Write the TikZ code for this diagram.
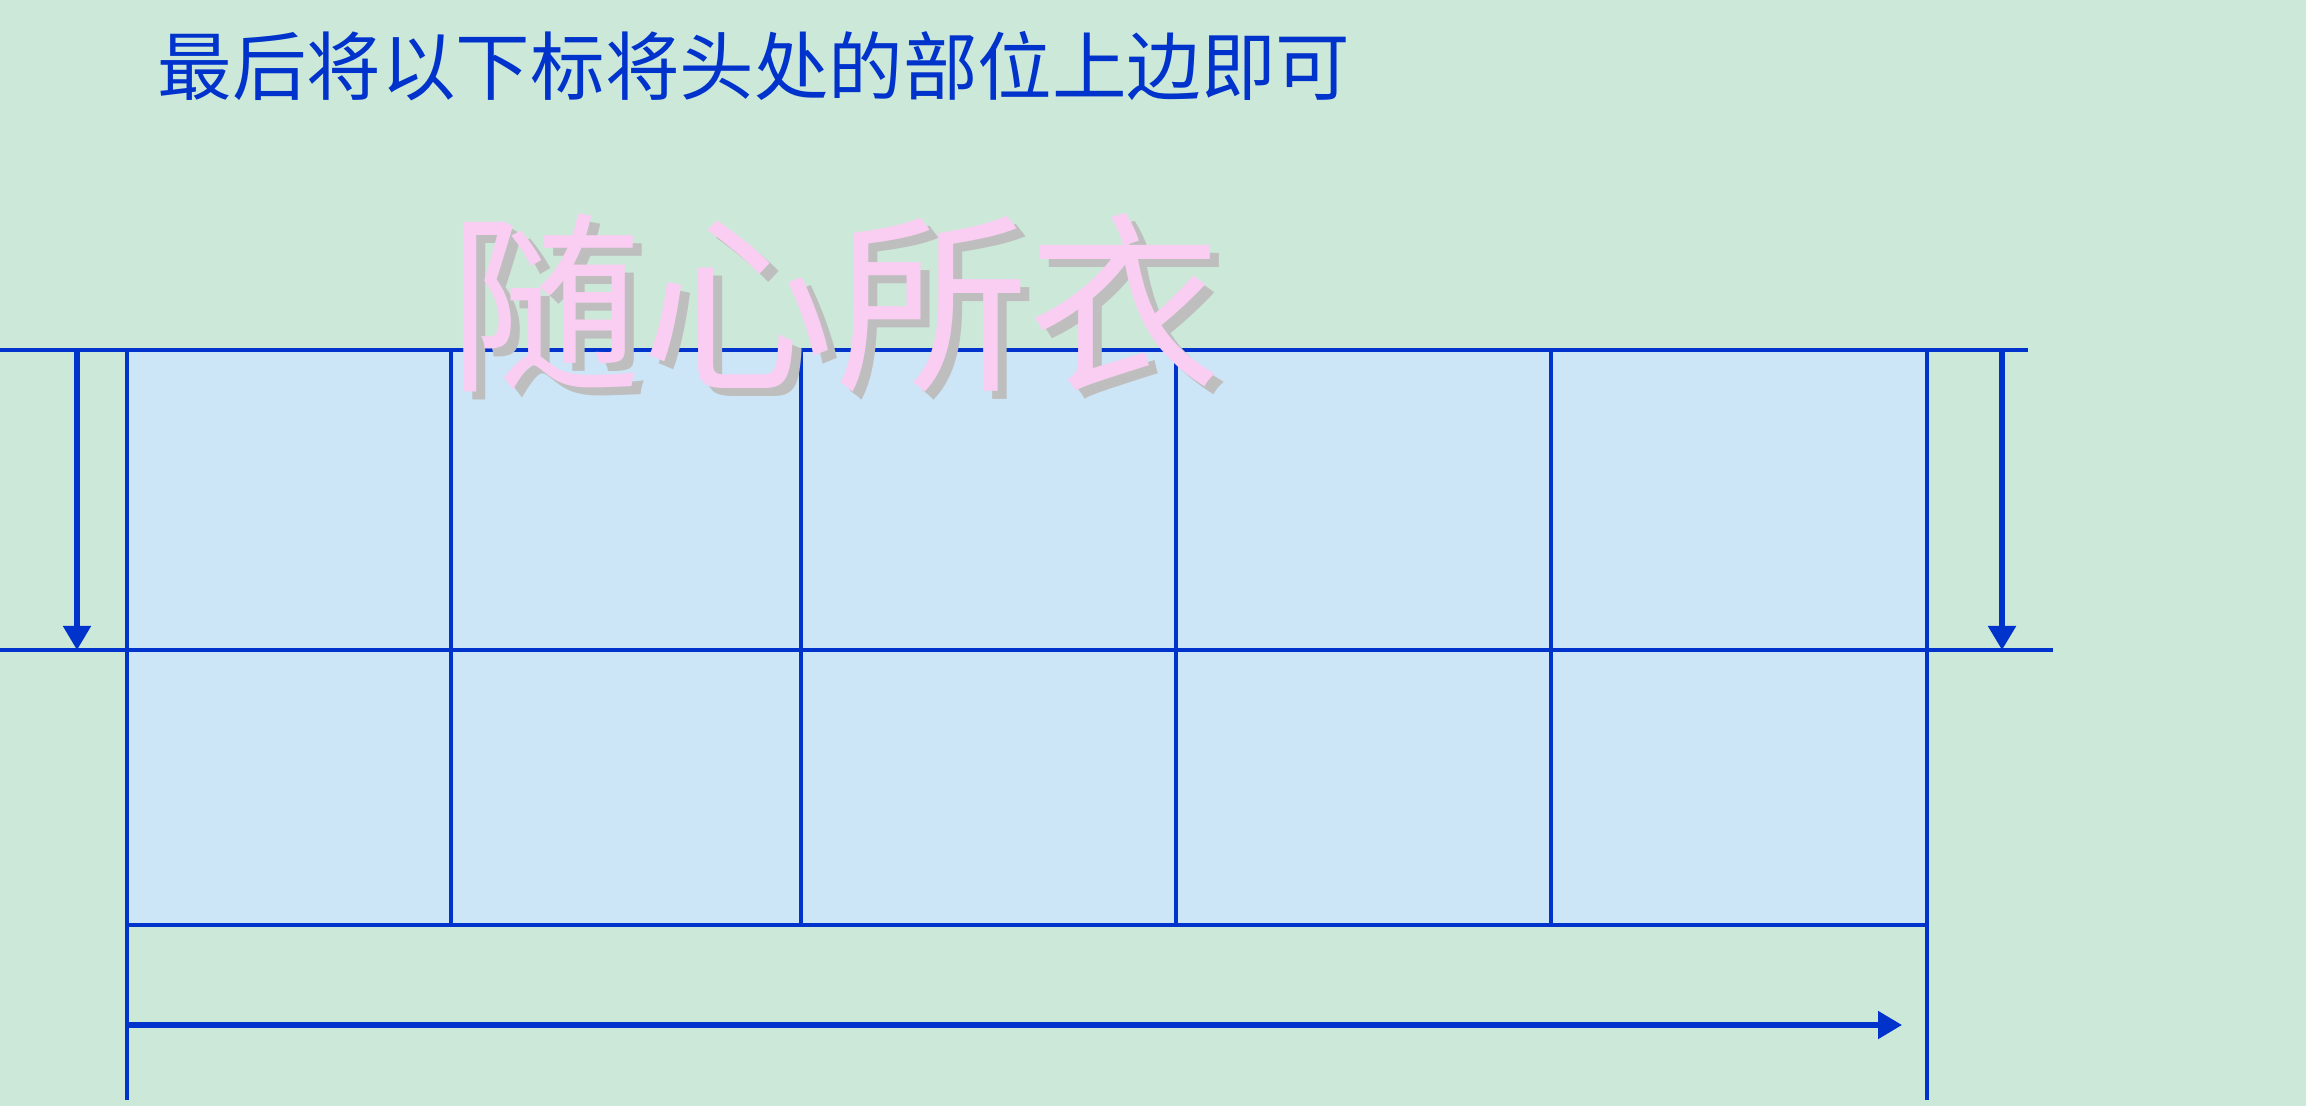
\documentclass[tikz,border=0pt]{standalone}
\usepackage{fontspec}
\newfontfamily\cjk{Noto Sans CJK SC}
\usetikzlibrary{arrows.meta}
\definecolor{bgc}{RGB}{204,232,217}
\definecolor{cellc}{RGB}{204,230,247}
\definecolor{linec}{RGB}{0,51,204}
\definecolor{pinkc}{RGB}{250,206,242}
\definecolor{shadowc}{RGB}{190,190,190}
\tikzset{
  gridline/.style={draw=linec, line width=1pt},
  arrowline/.style={draw=linec, line width=1.45pt, -{Triangle[length=0.24cm,width=0.27cm]}},
  titletext/.style={font=\cjk\fontsize{21.2pt}{24pt}\selectfont, text=linec, inner sep=0pt, anchor=west},
  bigtext/.style={font=\cjk\fontsize{55pt}{60pt}\selectfont, inner sep=0pt}
}
\begin{document}
\begin{tikzpicture}[x=0.01cm,y=-0.01cm]
\fill[bgc] (0,0) rectangle (2306,1106);
\useasboundingbox (0,0) rectangle (2306,1106);
% table fill
\fill[cellc] (127,350) rectangle (1927,925);
% horizontal lines
\draw[gridline] (0,350) -- (2028,350);
\draw[gridline] (0,650) -- (2053,650);
\draw[gridline] (127,925) -- (1927,925);
% vertical lines
\draw[gridline] (127,350) -- (127,1100);
\draw[gridline] (1927,350) -- (1927,1100);
\foreach \xx in {451,801,1176,1551} {
  \draw[gridline] (\xx,350) -- (\xx,925);
}
% arrows
\coordinate (la1) at (77,350);
\coordinate (la2) at (77,650);
\coordinate (ra1) at (2002,350);
\coordinate (ra2) at (2002,650);
\coordinate (ba1) at (125,1025);
\coordinate (ba2) at (1902,1025);
\draw[arrowline] (la1) -- (la2);
\draw[arrowline] (ra1) -- (ra2);
\draw[arrowline] (ba1) -- (ba2);
% title
\node[titletext] (title) at (157,66) {最后将以下标将头处的部位上边即可};
% big shadowed text
\node[bigtext, text=shadowc] (bigshadow) at (844,311) {随心所衣};
\node[bigtext, text=pinkc] (big) at (835,303) {随心所衣};
\end{tikzpicture}
\end{document}
